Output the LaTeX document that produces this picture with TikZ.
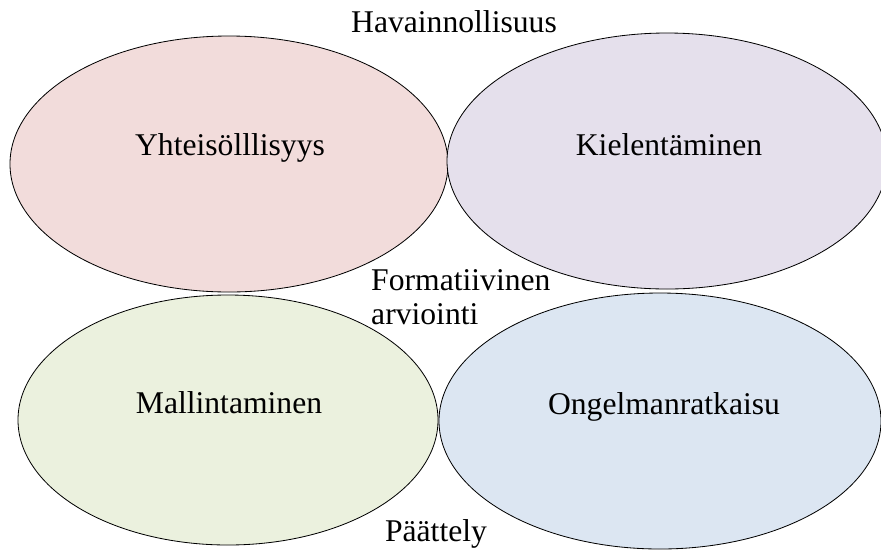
\documentclass[tikz,border=0pt]{standalone}
\usepackage{fontspec}
\setmainfont{Liberation Serif}
\definecolor{pinkfill}{HTML}{F2DCDB}
\definecolor{lilacfill}{HTML}{E5E0EC}
\definecolor{olivefill}{HTML}{EBF1DE}
\definecolor{bluefill}{HTML}{DCE6F2}
\tikzset{
  blob/.style={draw=black,line width=0.7pt},
  word/.style={inner sep=0pt,anchor=base,font=\fontsize{27}{29}\selectfont}
}

\begin{document}
\begin{tikzpicture}[x=0.03cm,y=-0.03cm]
    \useasboundingbox (0,0) rectangle (881,550);
    \clip (0,0) rectangle (881,550);
    % ellipsit
    \draw[blob,fill=pinkfill] (229,164) ellipse [x radius=219,y radius=128];
    \draw[blob,fill=lilacfill] (667,161) ellipse [x radius=220,y radius=128];
    \draw[blob,fill=olivefill] (228,420) ellipse [x radius=210,y radius=125];
    \draw[blob,fill=bluefill] (660,421) ellipse [x radius=221,y radius=128];
    % tekstit
    \node[word] (yht) at (230,155) {Yhteisölllisyys};
    \node[word] (kiel) at (669,155) {Kielentäminen};
    \node[word] (mall) at (229,413) {Mallintaminen};
    \node[word] (ong) at (664,414) {Ongelmanratkaisu};
    \node[word] (hav) at (454,32) {Havainnollisuus};
    \node[word,anchor=base west,align=left] (form) at (371,324) {Formatiivinen\\arviointi}; % base = alempi rivi
    \node[word] (paat) at (436,541) {Päättely};
\end{tikzpicture}
\end{document}
